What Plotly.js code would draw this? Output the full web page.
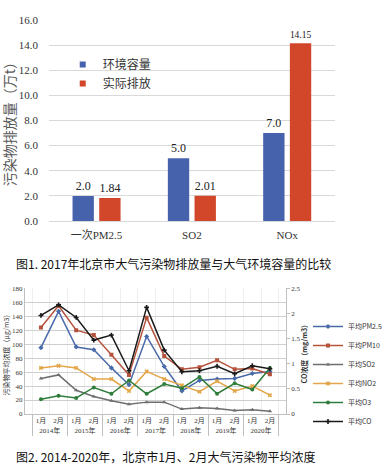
<!DOCTYPE html>
<html>
<head>
<meta charset="utf-8">
<script src="https://cdn.plot.ly/plotly-3.0.1.min.js"></script>
<style>html,body{margin:0;padding:0;background:#fff;}#chart{width:387px;height:471px;}</style>
</head>
<body>
<div id="chart"></div>
<script>
// ---- Figure 1 data ----
const pollutants = ['一次PM2.5', 'SO2', 'NOx'];
const capacity = [2.0, 5.0, 7.0];
const emission = [1.84, 2.01, 14.15];
const barNames = ['环境容量', '实际排放'];

// ---- Figure 2 data ----
const years = ['2014年','2014年','2015年','2015年','2016年','2016年','2017年','2017年','2018年','2018年','2019年','2019年','2020年','2020年'];
const months = ['1月','2月','1月','2月','1月','2月','1月','2月','1月','2月','1月','2月','1月','2月'];
const pm25 = [95, 147, 96, 92, 66, 42, 111, 68, 33, 48, 50, 51, 58, 61];
const pm10 = [124, 155, 120, 113, 85, 56, 138, 83, 64, 67, 77, 64, 65, 57];
const so2  = [51, 56, 34, 25, 19, 14, 17, 17, 7, 9, 8, 5, 6, 4];
const no2  = [66, 69, 66, 50, 50, 33, 61, 50, 41, 32, 47, 33, 40, 27];
const o3   = [21, 26, 23, 38, 29, 48, 29, 43, 37, 53, 29, 44, 35, 66];
const co   = [1.96, 2.17, 1.92, 1.47, 1.57, 0.86, 2.12, 1.27, 0.84, 0.86, 0.95, 0.80, 0.96, 0.90];
const lineNames = ['平均PM2.5','平均PM10','平均SO2','平均NO2','平均O3','平均CO'];

const W = 387, H = 471;
const px = x => x / W;
const py = y => 1 - y / H;
const SERIF = 'Liberation Serif, Noto Sans CJK SC, serif';
const CJK = 'Noto Sans CJK SC, sans-serif';
const BLUE = '#4662ad', RED = '#d2462a';

const traces = [];
traces.push({
  type: 'bar', x: pollutants, y: capacity, name: barNames[0], showlegend: false,
  marker: {color: BLUE}, xaxis: 'x', yaxis: 'y',
  text: capacity.map(v => v.toFixed(1)), textposition: 'outside', cliponaxis: false,
  textfont: {family: SERIF, size: 12, color: '#222'}
});
traces.push({
  type: 'bar', x: pollutants, y: emission, name: barNames[1], showlegend: false,
  marker: {color: RED}, xaxis: 'x', yaxis: 'y',
  text: emission.map(v => v.toFixed(2)), textposition: 'outside', cliponaxis: false,
  textfont: {family: SERIF, size: 12, color: '#222'}
});
// legend proxies for the bar chart (small squares)
[BLUE, RED].forEach((c, i) => traces.push({
  type: 'scatter', mode: 'markers', x: [null], y: [null], name: barNames[i],
  marker: {symbol: 'square', size: 6, color: c}, xaxis: 'x', yaxis: 'y', legend: 'legend'
}));

const xcat = [years, months];
const series = [
  {y: pm25, c: '#4a6baa', s: 'diamond'},
  {y: pm10, c: '#b5523b', s: 'square'},
  {y: so2,  c: '#6e6e6e', s: 'triangle-up'},
  {y: no2,  c: '#e3a548', s: 'x'},
  {y: o3,   c: '#2f7d3a', s: 'circle'},
  {y: co,   c: '#1a1a1a', s: 'cross', right: true}
];
series.forEach((d, i) => traces.push({
  type: 'scatter', mode: 'lines+markers', x: xcat, y: d.y, name: lineNames[i],
  line: {color: d.c, width: 1.5}, marker: {symbol: d.s, size: 4, color: d.c},
  xaxis: 'x2', yaxis: d.right ? 'y3' : 'y2', legend: 'legend2'
}));

const layout = {
  width: W, height: H, margin: {l: 0, r: 0, t: 0, b: 0},
  paper_bgcolor: '#fff', plot_bgcolor: '#fff',
  barmode: 'group', bargap: 0.44, bargroupgap: 0.2,
  xaxis: {
    domain: [px(53), px(363)], anchor: 'y', type: 'category',
    showline: true, linecolor: '#d9d9d9', ticks: '', ticklabelstandoff: 4,
    tickfont: {family: SERIF, size: 11, color: '#333'}
  },
  yaxis: {
    domain: [py(221), py(20)], anchor: 'x', range: [0, 16], dtick: 2, tickformat: '.1f',
    showgrid: true, gridcolor: '#d9d9d9', zeroline: false, showline: false,
    ticks: '', ticklabelstandoff: 10,
    tickfont: {family: SERIF, size: 11, color: '#333'}
  },
  xaxis2: {
    domain: [px(27), px(310)], anchor: 'y2', type: 'multicategory',
    showline: true, linecolor: '#bfbfbf', ticks: '', tickangle: 0, showdividers: true,
    dividercolor: '#bfbfbf', dividerwidth: 1,
    tickfont: {family: SERIF, size: 7, color: '#333'}
  },
  yaxis2: {
    domain: [py(414), py(288.3)], anchor: 'x2', range: [0, 180], dtick: 20,
    showgrid: true, gridcolor: '#cfcfcf', zeroline: false,
    showline: true, linecolor: '#bfbfbf', ticks: '',
    tickfont: {family: SERIF, size: 7, color: '#333'}
  },
  yaxis3: {
    overlaying: 'y2', side: 'right', anchor: 'x2', range: [0, 2.5], dtick: 0.5,
    showgrid: false, zeroline: false, showline: true, linecolor: '#bfbfbf',
    ticks: 'outside', ticklen: 3, tickcolor: '#bfbfbf',
    tickfont: {family: SERIF, size: 7, color: '#333'}
  },
  legend: {
    x: px(68), y: py(50), xanchor: 'left', yanchor: 'top', bgcolor: 'rgba(0,0,0,0)',
    font: {family: CJK, size: 12, color: '#333'}, itemwidth: 30, tracegroupgap: 0
  },
  legend2: {
    x: px(334), y: py(312), xanchor: 'left', yanchor: 'top', bgcolor: 'rgba(0,0,0,0)',
    font: {family: CJK, size: 7, color: '#333'}, itemwidth: 30, tracegroupgap: 0
  },
  annotations: [
    {text: '污染物排放量（万t）', x: px(10), y: py(121), xref: 'paper', yref: 'paper',
     xanchor: 'center', yanchor: 'middle',
     textangle: -90, showarrow: false, font: {family: CJK, size: 14, color: '#595959'}},
    {text: '图1. 2017年北京市大气污染物排放量与大气环境容量的比较', x: px(15), y: py(263),
     xref: 'paper', yref: 'paper', xanchor: 'left', yanchor: 'middle', showarrow: false,
     font: {family: CJK, size: 12, color: '#111'}},
    {text: '污染物平均浓度（μg/m3）', x: px(7), y: py(353), xref: 'paper', yref: 'paper',
     xanchor: 'center', yanchor: 'middle',
     textangle: -90, showarrow: false, font: {family: CJK, size: 7, color: '#333'}},
    {text: '<b>CO浓度（mg/m3）</b>', x: px(330), y: py(352), xref: 'paper', yref: 'paper',
     xanchor: 'center', yanchor: 'middle',
     textangle: -90, showarrow: false, font: {family: CJK, size: 7, color: '#333'}},
    {text: '图2. 2014-2020年，北京市1月、2月大气污染物平均浓度', x: px(15), y: py(456),
     xref: 'paper', yref: 'paper', xanchor: 'left', yanchor: 'middle', showarrow: false,
     font: {family: CJK, size: 12, color: '#111'}}
  ]
};

Plotly.newPlot('chart', traces, layout, {staticPlot: true, displayModeBar: false});
</script>
</body>
</html>
